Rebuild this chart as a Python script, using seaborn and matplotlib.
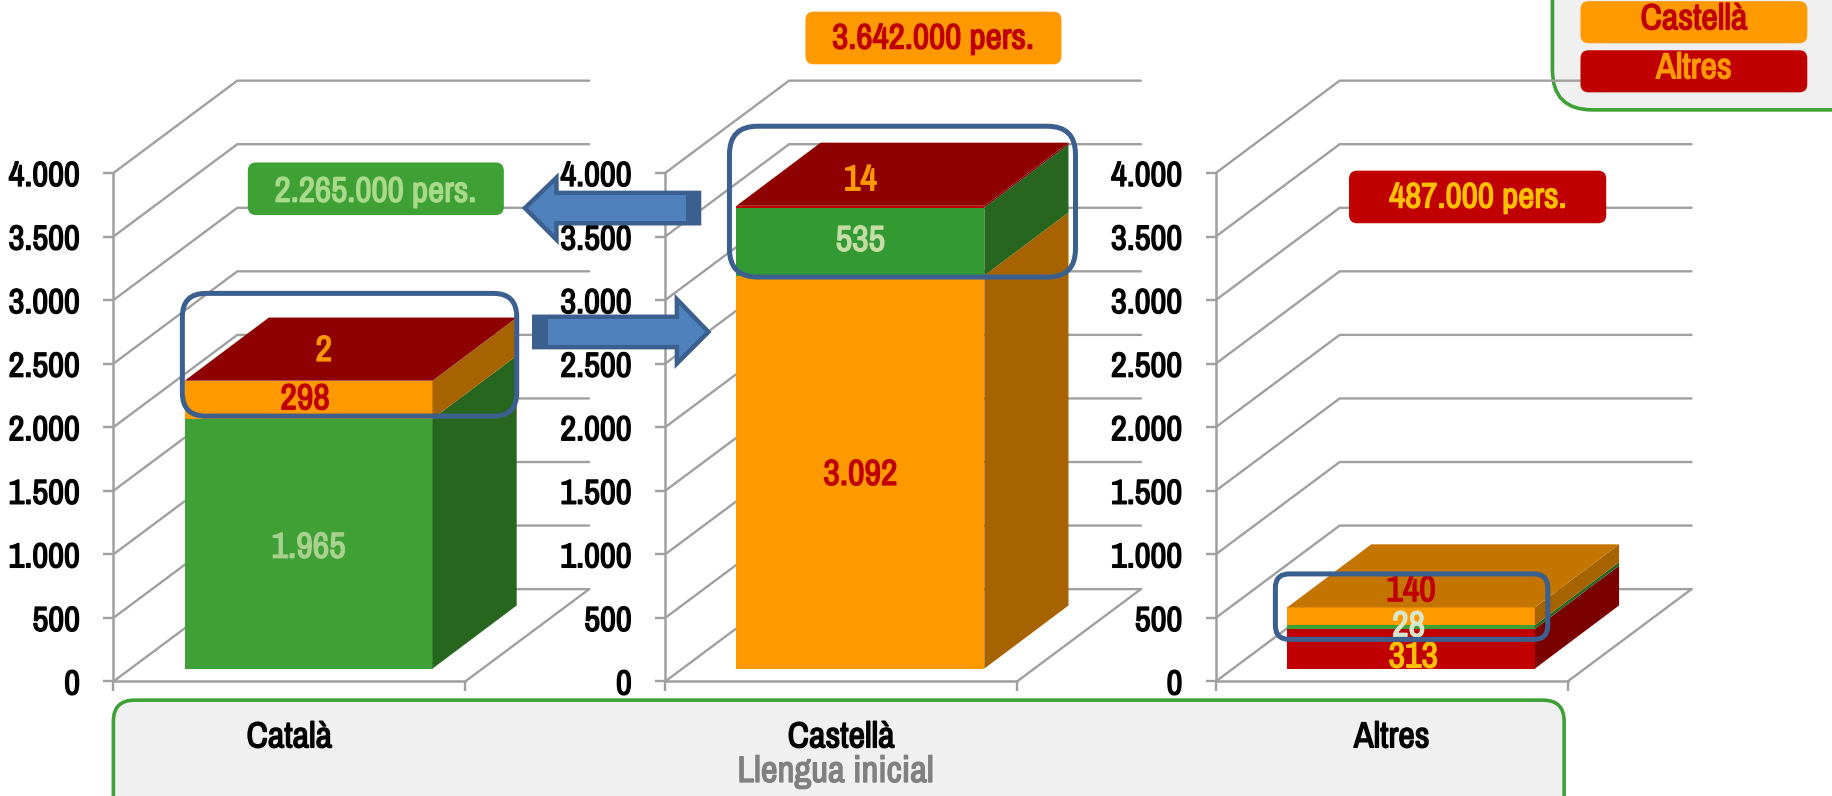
import matplotlib
matplotlib.use("Agg")
import matplotlib.pyplot as plt
import matplotlib.patheffects as pe
import pandas as pd
import seaborn as sns
from matplotlib.patches import FancyBboxPatch, Polygon, Rectangle
from matplotlib.ticker import FuncFormatter

# ---- data ----
categories = ["Català", "Castellà", "Altres"]
totals = ["2.265.000 pers.", "3.642.000 pers.", "487.000 pers."]
catala_stack = [1965, 298, 2]
castella_stack = [3092, 535, 14]
altres_stack = [313, 28, 140]
catala_series = ["Català", "Castellà", "Altres"]
castella_series = ["Castellà", "Català", "Altres"]
altres_series = ["Altres", "Català", "Castellà"]
y_ticks = [0, 500, 1000, 1500, 2000, 2500, 3000, 3500, 4000]

# ---- style ----
W, H = 1568, 681
FRONT = {"Català": "#3EA035", "Castellà": "#FF9900", "Altres": "#C00000"}
SIDE = {"Català": "#27661F", "Castellà": "#A66300", "Altres": "#7B0000"}
TOP = {"Català": "#2E7A28", "Castellà": "#C47500", "Altres": "#8F0000"}
GRID = "#A0A0A0"
BLUE_EDGE, BLUE_FILL = "#3B5F8F", "#4F81BD"
GREEN_EDGE, PANEL = "#3EA035", "#F0F0F0"
panel_x = [97, 569, 1040]
label_colors = [["#A9D18E", "#C00000", "#FF9900"],
                ["#C00000", "#C5DDA5", "#FF9900"],
                ["#FFC000", "#D8E8CF", "#C00000"]]
label_offsets = [[(0, -3), (-3, 1), (13, 26)],
                 [(0, -2), (0, 1), (0, 23)],
                 [(2, -7), (-2, 1), (0, 22)]]

sns.set_theme(style="white")
plt.rcParams["font.family"] = ["Archivo Narrow", "Liberation Sans", "DejaVu Sans"]
plt.rcParams["font.weight"] = "bold"

fig = plt.figure(figsize=(18.33, 7.96), dpi=100, facecolor="white")


def embolden(t, w=1.0):
    # the narrow family comes in one weight only, so thicken the real text with its own colour
    t.set_path_effects([pe.withStroke(linewidth=w, foreground=t.get_color())])
    return t


def rect(x, ybottom, w, h):
    return [x / W, 1 - ybottom / H, w / W, h / H]


def overlay(z):
    a = fig.add_axes([0, 0, 1, 1], zorder=z, facecolor="none")
    a.set_xlim(0, W)
    a.set_ylim(H, 0)
    a.axis("off")
    return a


def rbox(a, x0, y0, x1, y1, r, fc, ec="none", lw=0, z=2):
    a.add_patch(FancyBboxPatch((x0 + r, y0 + r), x1 - x0 - 2 * r, y1 - y0 - 2 * r,
                               boxstyle=f"round,pad={r},rounding_size={r}",
                               fc=fc, ec=ec, lw=lw, zorder=z))


def fmt(v, _=None):
    return f"{int(v):,}".replace(",", ".")


bg = overlay(-1)
fg = overlay(10)

# background frames
rbox(bg, 97, 599, 1338, 700, 18, PANEL, GREEN_EDGE, 2.6)
rbox(bg, 1328, -60, 1640, 94, 34, PANEL, GREEN_EDGE, 2.6)
embolden(bg.text(715, 660, "Llengua inicial", color="#808080", fontsize=26.5, ha="center", va="center"))

stacks = [catala_stack, castella_stack, altres_stack]
series = [catala_series, castella_series, altres_series]

WALL_DX, WALL_DY = 106 / 301, 79 / 435 * 4000
BAR_DX, BAR_DY = 72 / 301, 54 / 435 * 4000

for i, x0 in enumerate(panel_x):
    # wall: oblique grid, axis and ticks
    wall = fig.add_axes(rect(x0, 583, 301, 435), facecolor="none", zorder=1)
    wall.set_xlim(0, 1)
    wall.set_ylim(0, 4000)
    for v in y_ticks:
        wall.plot([0, WALL_DX, 1 + WALL_DX], [v, v + WALL_DY, v + WALL_DY],
                  color=GRID, lw=1.7, clip_on=False, solid_joinstyle="miter")
    wall.plot([1, 1 + WALL_DX], [0, WALL_DY], color=GRID, lw=1.7, clip_on=False)
    wall.set_yticks(y_ticks)
    wall.yaxis.set_major_formatter(FuncFormatter(fmt))
    wall.set_xticks([0.5])
    wall.set_xticklabels([categories[i]])
    wall.set_xticks([0, 1], minor=True)
    wall.tick_params(axis="y", length=7, width=1.7, color=GRID, pad=17, labelsize=25,
                     labelcolor="black", left=True)
    wall.tick_params(axis="x", which="major", length=0, pad=28, labelsize=26, labelcolor="black")
    wall.tick_params(axis="x", which="minor", length=7, width=1.7, color=GRID, bottom=True)
    for t in wall.get_yticklabels() + wall.get_xticklabels():
        embolden(t)
    sns.despine(ax=wall, top=True, right=True)
    for s in ("left", "bottom"):
        wall.spines[s].set_color(GRID)
        wall.spines[s].set_linewidth(1.8)

    # bars on a plane set a little into the oblique floor
    ax = fig.add_axes(rect(x0 + 16.5, 572, 301, 435), facecolor="none", zorder=2)
    bottom = 0
    for j, (val, name) in enumerate(zip(stacks[i], series[i])):
        df = pd.DataFrame({"llengua": [categories[i]], "valor": [val]})
        front = "#339933" if (i == 1 and name == "Català") else FRONT[name]
        sns.barplot(data=df, x="llengua", y="valor", bottom=bottom, color=front,
                    saturation=1, width=212 / 301, errorbar=None, linewidth=0, ax=ax)
        bottom += val
    ax.set_xlim(-0.5, 0.5)
    ax.set_ylim(0, 4000)
    ax.axis("off")
    xl, xr = -106 / 301, 106 / 301
    bottom = 0
    for j, (val, name) in enumerate(zip(stacks[i], series[i])):
        top = bottom + val
        ax.add_patch(Polygon([(xr, bottom), (xr, top), (xr + BAR_DX, top + BAR_DY),
                              (xr + BAR_DX, bottom + BAR_DY)],
                             fc=SIDE[name], ec="none", clip_on=False))
        off = label_offsets[i][j]
        embolden(ax.annotate(fmt(val), (0, bottom + val / 2),
                             xytext=(off[0] * 1833 / W, off[1] * 1833 / W),
                             textcoords="offset pixels", ha="center", va="center",
                             color=label_colors[i][j], fontsize=26, zorder=6,
                             annotation_clip=False))
        bottom = top
    ax.add_patch(Polygon([(xl, bottom), (xr, bottom), (xr + BAR_DX, bottom + BAR_DY),
                          (xl + BAR_DX, bottom + BAR_DY)],
                         fc=TOP[series[i][-1]], ec="none", clip_on=False, zorder=3))

# foreground: callouts, legend chips, highlight outlines, arrows
rbox(fg, 212, 139, 431, 184, 7, "#3EA035")
embolden(fg.text(321, 164, totals[0], color="#A9D98B", fontsize=25.5, ha="center", va="center"))
rbox(fg, 689, 10, 908, 55, 7, "#FF9900")
embolden(fg.text(798, 33, totals[1], color="#C00000", fontsize=25.5, ha="center", va="center"))
rbox(fg, 1154, 146, 1374, 191, 7, "#C00000")
embolden(fg.text(1264, 169, totals[2], color="#FFC000", fontsize=25.5, ha="center", va="center"))

rbox(fg, 1352, 1, 1546, 37, 7, "#FF9900")
embolden(fg.text(1449, 16, categories[1], color="#C00000", fontsize=26, ha="center", va="center"))
rbox(fg, 1352, 43, 1546, 79, 7, "#C00000")
embolden(fg.text(1449, 58, categories[2], color="#FF9900", fontsize=26, ha="center", va="center"))

rbox(fg, 156, 251, 442, 356, 20, "none", BLUE_EDGE, 3.6, z=4)
rbox(fg, 624, 108, 920, 237, 24, "none", BLUE_EDGE, 3.6, z=4)
rbox(fg, 1091, 491, 1324, 547, 12, "none", BLUE_EDGE, 3.6, z=4)

fg.add_patch(Polygon([(449, 178), (476, 152), (476, 165), (598, 165), (598, 191), (476, 191), (476, 205)],
                     fc=BLUE_FILL, ec=BLUE_EDGE, lw=3.2, zorder=3))
fg.add_patch(Rectangle((587, 164), 13, 28, fc=BLUE_EDGE, ec="none", zorder=3))
fg.add_patch(Polygon([(606, 284), (579, 256), (579, 271), (457, 271), (457, 297), (579, 297), (579, 311)],
                     fc=BLUE_FILL, ec=BLUE_EDGE, lw=3.2, zorder=3))
fg.add_patch(Rectangle((456, 270), 13, 28, fc=BLUE_EDGE, ec="none", zorder=3))

fig.savefig("out.png", dpi=100)
